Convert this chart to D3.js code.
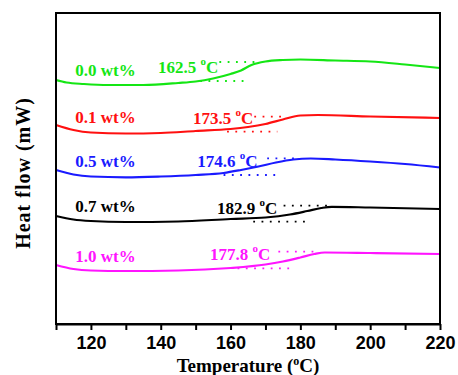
<!DOCTYPE html>
<html lang="en">
  <head>
    <meta charset="UTF-8">
    <title>DSC heat flow</title>
    <script src="https://d3js.org/d3.v7.min.js"></script>
    <style>
      body { margin: 0; background: #fff; }
      .serif { font-family: "Liberation Serif", "Times New Roman", serif; font-weight: bold; }
    </style>
  </head>
  <body>
    <script>
      // temperature (°C) and heat flow (arbitrary offset units) for each curve
      const contents = ["0.0 wt%", "0.1 wt%", "0.5 wt%", "0.7 wt%", "1.0 wt%"];
      const colors = ["#14e614", "#ff1010", "#1a1aff", "#000000", "#ff14ff"];

      const tempGreen = [110, 113, 118, 125, 135, 145, 150, 155, 160, 163, 166, 170, 175, 180, 190, 200, 210, 220];
      const flowGreen = [24.4, 24.15, 24.0, 23.9, 23.9, 24.1, 24.25, 24.55, 25.0, 25.35, 25.9, 26.25, 26.4, 26.45, 26.35, 26.25, 25.95, 25.6];

      const tempRed = [110, 115, 120, 130, 140, 150, 160, 165, 170, 175, 180, 185, 200, 220];
      const flowRed = [19.9, 19.4, 19.15, 19.05, 19.1, 19.3, 19.5, 19.7, 20.0, 20.45, 20.85, 20.9, 20.75, 20.6];

      const tempBlue = [110, 115, 120, 130, 140, 150, 158, 163, 168, 173, 178, 183, 190, 200, 210, 220];
      const flowBlue = [15.4, 14.95, 14.75, 14.67, 14.75, 14.9, 15.1, 15.4, 15.75, 16.15, 16.45, 16.55, 16.45, 16.25, 16.0, 15.65];

      const tempBlack = [110, 115, 120, 130, 145, 160, 170, 177, 182, 186, 189, 200, 220];
      const flowBlack = [10.8, 10.45, 10.3, 10.2, 10.25, 10.5, 10.65, 10.95, 11.3, 11.6, 11.72, 11.65, 11.5];

      const tempMagenta = [110, 115, 120, 130, 145, 160, 170, 175, 180, 184, 187, 200, 220];
      const flowMagenta = [5.9, 5.5, 5.35, 5.3, 5.35, 5.6, 5.95, 6.25, 6.65, 7.0, 7.15, 7.1, 7.0];

      const temps = [tempGreen, tempRed, tempBlue, tempBlack, tempMagenta];
      const flows = [flowGreen, flowRed, flowBlue, flowBlack, flowMagenta];

      // glass transition temperatures and where their labels / tangent lines sit
      const tgValues = ["162.5", "173.5", "174.6", "182.9", "177.8"];
      const tgLabelAt = [[156.5, 25.1], [166.5, 20.0], [167.7, 15.73], [173.4, 10.97], [171.4, 6.4]];
      const tangentUpper = [[156.8, 167.1, 26.2], [166.8, 176.3, 20.73], [170.5, 180, 16.57], [175.2, 188.6, 11.83], [173.7, 184.9, 7.23]];
      const tangentLower = [[151.3, 164.2, 24.3], [159, 173.4, 19.23], [158, 172.8, 14.9], [166.5, 181.4, 10.23], [162, 177.5, 5.57]];
      const contentLabelAt = [[115.5, 24.8], [115.5, 20.07], [115.5, 15.73], [115.5, 11.17], [115.5, 6.23]];

      const xTicks = [110, 120, 130, 140, 150, 160, 170, 180, 190, 200, 210, 220];

      const w = 458, h = 375;
      const mLeft = 56, mRight = 440, mTop = 13, mBottom = 324;

      const svg = d3.select("body").append("svg")
        .attr("width", w)
        .attr("height", h);

      const x = d3.scaleLinear().domain([110, 220]).range([mLeft, mRight]);
      const y = d3.scaleLinear().domain([0, 31.1]).range([mBottom, mTop]);

      const line = d3.line()
        .x(d => x(d[0]))
        .y(d => y(d[1]))
        .curve(d3.curveMonotoneX);

      temps.forEach((t, i) => {
        const pts = t.map((v, j) => [v, flows[i][j]]);
        svg.append("path")
          .attr("d", line(pts))
          .attr("fill", "none")
          .attr("stroke", colors[i])
          .attr("stroke-width", 2.2);

        [tangentUpper[i], tangentLower[i]].forEach(tg => {
          svg.append("line")
            .attr("x1", x(tg[0])).attr("x2", x(tg[1]))
            .attr("y1", y(tg[2])).attr("y2", y(tg[2]))
            .attr("stroke", colors[i])
            .attr("stroke-width", 1.8)
            .attr("stroke-dasharray", "1.8,6.5");
        });

        svg.append("text")
          .attr("class", "serif")
          .attr("x", x(contentLabelAt[i][0]))
          .attr("y", y(contentLabelAt[i][1]))
          .attr("fill", colors[i])
          .style("font-size", "17px")
          .text(contents[i]);

        const tg = svg.append("text")
          .attr("class", "serif")
          .attr("x", x(tgLabelAt[i][0]))
          .attr("y", y(tgLabelAt[i][1]))
          .attr("text-anchor", "end")
          .attr("fill", colors[i])
          .style("font-size", "17px");
        tg.append("tspan").text(tgValues[i] + " ");
        tg.append("tspan").attr("dy", -8).style("font-size", "11px").text("o");
        tg.append("tspan").attr("dy", 8).text("C");
      });

      // frame
      svg.append("rect")
        .attr("x", mLeft).attr("y", mTop)
        .attr("width", mRight - mLeft).attr("height", mBottom - mTop)
        .attr("fill", "none")
        .attr("stroke", "#000")
        .attr("stroke-width", 2);

      const xAxis = d3.axisBottom(x)
        .tickValues(xTicks)
        .tickSize(6)
        .tickSizeOuter(0)
        .tickFormat(d => d % 20 === 0 ? d : "");

      const gx = svg.append("g")
        .attr("transform", `translate(0,${mBottom})`)
        .call(xAxis);
      gx.select(".domain").attr("stroke-width", 2);
      gx.selectAll(".tick line").attr("stroke-width", 2);
      gx.selectAll(".tick text")
        .attr("y", 25)
        .attr("dy", null)
        .style("font-family", "'Liberation Sans', Arial, sans-serif")
        .style("font-weight", "bold")
        .style("font-size", "18px")
        .attr("fill", "#000");

      const xt = svg.append("text")
        .attr("class", "serif")
        .attr("x", (mLeft + mRight) / 2)
        .attr("y", 372)
        .attr("text-anchor", "middle")
        .style("font-size", "19px");
      xt.append("tspan").text("Temperature (");
      xt.append("tspan").attr("dy", -7).style("font-size", "12px").text("o");
      xt.append("tspan").attr("dy", 7).text("C)");

      svg.append("text")
        .attr("class", "serif")
        .attr("transform", "translate(30,173) rotate(-90)")
        .attr("text-anchor", "middle")
        .style("font-size", "20px")
        .style("letter-spacing", "1px")
        .text("Heat flow (mW)");
    </script>
  </body>
</html>
